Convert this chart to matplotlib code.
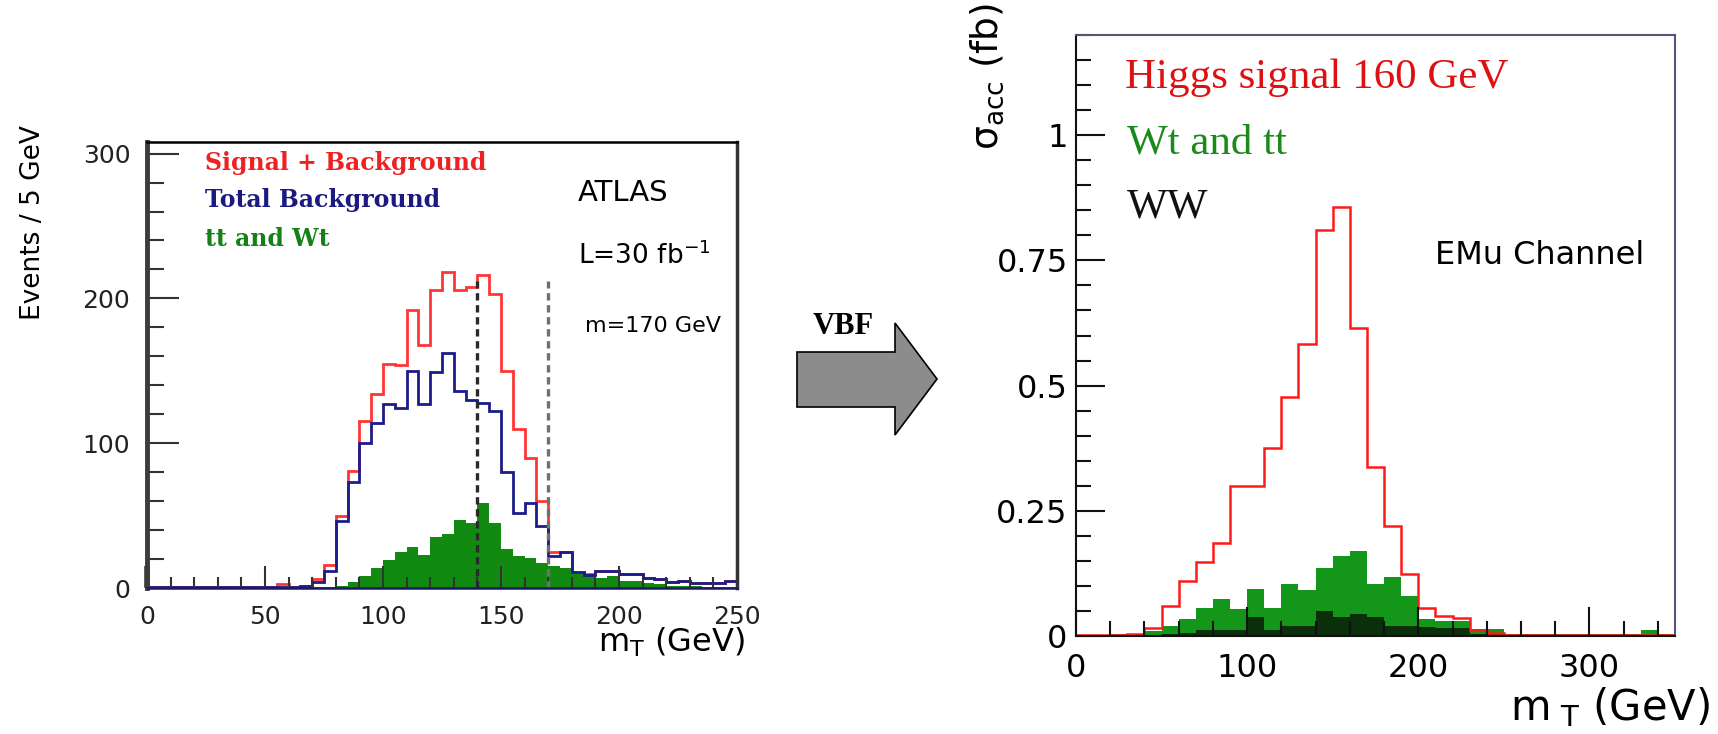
import matplotlib
matplotlib.use('Agg')
import matplotlib.pyplot as plt
from matplotlib.patches import Polygon
from matplotlib.ticker import MultipleLocator, FixedLocator
import numpy as np

W, H = 1718, 734

# left panel: ATLAS m_T, 5 GeV bins, 0-250 GeV
left_edges = np.arange(0, 255, 5)
sig_plus_bkg = [0.5, 0.5, 0.5, 0.5, 0.5, 0.5, 0.5, 0.5, 0.5, 0.5,
                1, 3, 1, 1.5, 6, 16, 50, 81, 115, 134,
                155, 154, 192, 168, 206, 218, 206, 208, 216, 203,
                150, 110, 90, 60, 25, 25, 11, 10, 12, 12,
                10, 10, 7, 6, 4, 4.5, 3.5, 3.5, 3.5, 4.5]
total_bkg = [0.5, 0.5, 0.5, 0.5, 0.5, 0.5, 0.5, 0.5, 0.5, 0.5,
             0.5, 1, 1, 1.5, 4, 12, 46, 73, 100, 114,
             127, 124, 150, 127, 149, 162, 136, 130, 128, 122,
             80, 52, 59, 43, 22, 25, 11, 9, 12, 12,
             10, 10, 7, 6, 4, 4.5, 3.5, 3.5, 3.5, 4.5]
tt_wt = [0, 0, 0, 0, 0, 0, 0, 0, 0, 0,
         0.3, 0.3, 0.5, 0.5, 1, 1, 1.5, 4, 8, 14,
         19, 25, 28, 23, 35, 37, 47, 45, 59, 45,
         27, 22, 21, 17, 15, 14, 10, 8, 7, 8,
         5, 5, 3.5, 3, 1.5, 1.5, 1.5, 1, 1, 1]
cut_lines = [140, 170]
cut_top = 212

# right panel: VBF e-mu channel, 10 GeV bins, 0-350 GeV
right_edges = np.arange(0, 360, 10)
higgs_160 = [0.001, 0.001, 0.002, 0.004, 0.016, 0.059, 0.11, 0.148, 0.186, 0.30,
             0.30, 0.375, 0.477, 0.583, 0.811, 0.857, 0.615, 0.337, 0.22, 0.123,
             0.055, 0.04, 0.035, 0.012, 0.005, 0.002, 0.002, 0.002, 0.002, 0.002,
             0.002, 0.002, 0.002, 0.002, 0.002]
wt_tt = [0.002, 0.002, 0.003, 0.004, 0.01, 0.02, 0.033, 0.056, 0.074, 0.054,
         0.093, 0.056, 0.104, 0.091, 0.135, 0.16, 0.17, 0.103, 0.117, 0.08,
         0.033, 0.03, 0.03, 0.013, 0.013, 0.003, 0.003, 0.003, 0.003, 0.003,
         0.003, 0.003, 0.003, 0.012, 0.003]
ww = [0.001, 0.001, 0.001, 0.001, 0.002, 0.004, 0.006, 0.012, 0.012, 0.012,
      0.037, 0.012, 0.02, 0.02, 0.049, 0.038, 0.043, 0.037, 0.02, 0.02,
      0.017, 0.015, 0.015, 0.004, 0.004, 0.001, 0.001, 0.001, 0.001, 0.001,
      0.001, 0.001, 0.001, 0.001, 0.001]


def fx(px):
    return px / W


def fy(py):
    return 1 - py / H


fig = plt.figure(figsize=(W / 100, H / 100), dpi=100)

# ---------------- left panel ----------------
ax1 = fig.add_axes([fx(147), fy(588), (737 - 147) / W, (588 - 142) / H])
ax1.stairs(tt_wt, left_edges, fill=True, color='#128a12', lw=0)
ax1.stairs(sig_plus_bkg, left_edges, color='#ff3535', lw=2)
ax1.stairs(total_bkg, left_edges, color='#1c1c8a', lw=2)
for x, c in zip(cut_lines, ['#2a2a2a', '#707070']):
    ax1.plot([x, x], [0, cut_top], ls=(0, (2.2, 1.4)), color=c, lw=2.4)

ax1.set_xlim(0, 250)
ax1.set_ylim(0, 308)
ax1.xaxis.set_major_locator(MultipleLocator(50))
ax1.xaxis.set_minor_locator(MultipleLocator(10))
ax1.yaxis.set_major_locator(MultipleLocator(100))
ax1.yaxis.set_minor_locator(MultipleLocator(20))
ax1.tick_params(axis='y', which='major', direction='in', length=23, width=1.5,
                color='#333333', labelsize=18, pad=12, right=False)
ax1.tick_params(axis='y', which='minor', direction='in', length=12, width=1.5,
                color='#333333', right=False)
ax1.tick_params(axis='x', which='major', direction='in', length=16, width=1.5,
                color='#333333', labelsize=18, pad=12, top=False)
ax1.tick_params(axis='x', which='minor', direction='in', length=8, width=1.5,
                color='#333333', top=False)
for lab in ax1.get_xticklabels() + ax1.get_yticklabels():
    lab.set_family('DejaVu Sans')
    lab.set_color('#222222')
# the scanned original shows these two major ticks washed out
xt = ax1.xaxis.get_major_ticks()
xt[1].tick1line.set_color('#b8b8b8')
xt[1].tick1line.set_markeredgewidth(4)
yt = ax1.yaxis.get_major_ticks()
yt[1].tick1line.set_color('#a0a0a0')

ax1.spines['left'].set_linewidth(3.5)
ax1.spines['left'].set_color('#3c3c3c')
ax1.spines['top'].set_linewidth(1.8)
ax1.spines['right'].set_linewidth(2.5)
ax1.spines['right'].set_color('#333333')
ax1.spines['bottom'].set_linewidth(1.8)
ax1.spines['bottom'].set_color('#1a1a60')

legend_font = dict(family='DejaVu Serif', weight='bold', fontsize=17)
ax1.text(fx(205), fy(163), 'Signal + Background', transform=fig.transFigure,
         color='#ee2222', va='center', **legend_font)
ax1.text(fx(205), fy(200), 'Total Background', transform=fig.transFigure,
         color='#1a1a80', va='center', **legend_font)
ax1.text(fx(205), fy(239), 'tt and Wt', transform=fig.transFigure,
         color='#158015', va='center', **legend_font)
fig.text(fx(578), fy(193), 'ATLAS', fontsize=21, family='DejaVu Sans', va='center')
fig.text(fx(578), fy(256), 'L=30 fb$^{-1}$', fontsize=19, family='DejaVu Sans', va='center')
fig.text(fx(585), fy(326), 'm=170 GeV', fontsize=16, family='DejaVu Sans', va='center')

fig.text(fx(33), fy(125), 'Events / 5 GeV', rotation=90, fontsize=19,
         family='DejaVu Sans', ha='center', va='top')
fig.text(fx(745), fy(642), r'm$_{\mathrm{T}}$ (GeV)', fontsize=23,
         family='DejaVu Sans', ha='right', va='center')

# ---------------- arrow ----------------
arrow_px = [(797, 352), (895, 352), (895, 323), (937, 379),
            (895, 435), (895, 407), (797, 407)]
fig.patches.append(Polygon([(fx(a), fy(b)) for a, b in arrow_px], closed=True,
                           transform=fig.transFigure, facecolor='#8c8c8c',
                           edgecolor='black', lw=1.2))
fig.text(fx(843), fy(327), 'VBF', fontsize=22, family='Liberation Serif',
         weight='bold', ha='center', va='center')

# ---------------- right panel ----------------
ax2 = fig.add_axes([fx(1076), fy(636), (1675 - 1076) / W, (636 - 35) / H])
ax2.stairs(wt_tt, right_edges, fill=True, color='#14961a', lw=0)
ax2.stairs(ww, right_edges, fill=True, color='#0b2e0b', lw=0)
ax2.stairs(higgs_160, right_edges, color='#ff1a1a', lw=1.8)

ax2.set_xlim(0, 350)
ax2.set_ylim(0, 1.2)
ax2.xaxis.set_major_locator(MultipleLocator(100))
ax2.xaxis.set_minor_locator(MultipleLocator(20))
ax2.yaxis.set_major_locator(FixedLocator([0, 0.25, 0.5, 0.75, 1]))
ax2.yaxis.set_minor_locator(MultipleLocator(0.05))
ax2.set_yticklabels(['0', '0.25', '0.5', '0.75', '1'])
ax2.tick_params(which='major', direction='in', length=21, width=1.5,
                color='#111111', labelsize=23, top=False, right=False)
ax2.tick_params(which='minor', direction='in', length=11, width=1.5,
                color='#111111', top=False, right=False)
ax2.tick_params(axis='y', pad=6)
ax2.tick_params(axis='x', pad=12)
for lab in ax2.get_xticklabels() + ax2.get_yticklabels():
    lab.set_family('DejaVu Sans')

for s in ['left', 'bottom']:
    ax2.spines[s].set_linewidth(1.5)
    ax2.spines[s].set_color('#111111')
for s in ['top', 'right']:
    ax2.spines[s].set_linewidth(1.5)
    ax2.spines[s].set_color('#55557a')

serif = dict(family='Liberation Serif', fontsize=31, va='center')
fig.text(fx(1125), fy(78), 'Higgs signal 160 GeV', color='#dd1111', **serif)
fig.text(fx(1127), fy(143), 'Wt and tt', color='#1a8a1a', **serif)
fig.text(fx(1127), fy(207), 'WW', color='#111111', **serif)
fig.text(fx(1435), fy(255), 'EMu Channel', fontsize=23, family='DejaVu Sans', va='center')

fig.text(fx(987), fy(3), r'σ$_{\mathrm{acc}}$ (fb)', rotation=90, fontsize=27,
         family='DejaVu Sans', ha='center', va='top')
fig.text(fx(1710), fy(707), r'm$_{\ \mathrm{T}}$ (GeV)', fontsize=30,
         family='DejaVu Sans', ha='right', va='center')

fig.savefig('out.png', dpi=100)
